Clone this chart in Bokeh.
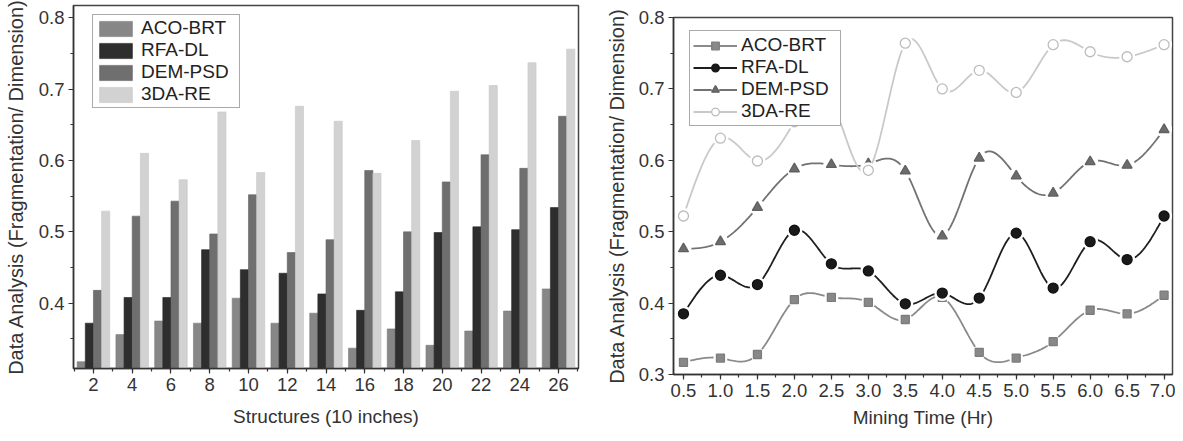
import numpy as np
from bokeh.plotting import figure
from bokeh.layouts import row
from bokeh.models import (ColumnDataSource, Range1d, SingleIntervalTicker,
                          NumeralTickFormatter, Legend, LegendItem)
from bokeh.transform import dodge
from bokeh.embed import file_html
from bokeh.resources import INLINE

# ---------------- data: left chart (bars) ----------------
structures = [2, 4, 6, 8, 10, 12, 14, 16, 18, 20, 22, 24, 26]
bar_aco_brt = [0.318, 0.356, 0.375, 0.372, 0.407, 0.372, 0.386, 0.337, 0.364, 0.341, 0.361, 0.389, 0.420]
bar_rfa_dl = [0.372, 0.408, 0.408, 0.475, 0.447, 0.442, 0.413, 0.390, 0.416, 0.499, 0.507, 0.503, 0.534]
bar_dem_psd = [0.418, 0.522, 0.543, 0.497, 0.552, 0.471, 0.489, 0.586, 0.500, 0.570, 0.608, 0.589, 0.662]
bar_3da_re = [0.529, 0.610, 0.573, 0.668, 0.583, 0.676, 0.655, 0.582, 0.628, 0.697, 0.705, 0.737, 0.756]

# ---------------- data: right chart (lines) ----------------
mining_time = [0.5, 1.0, 1.5, 2.0, 2.5, 3.0, 3.5, 4.0, 4.5, 5.0, 5.5, 6.0, 6.5, 7.0]
line_aco_brt = [0.317, 0.323, 0.328, 0.405, 0.408, 0.401, 0.377, 0.408, 0.331, 0.323, 0.346, 0.390, 0.385, 0.411]
line_rfa_dl = [0.385, 0.439, 0.426, 0.502, 0.455, 0.445, 0.399, 0.414, 0.407, 0.498, 0.421, 0.486, 0.461, 0.522]
line_dem_psd = [0.476, 0.486, 0.534, 0.588, 0.594, 0.595, 0.585, 0.494, 0.603, 0.578, 0.554, 0.598, 0.593, 0.643]
line_3da_re = [0.522, 0.631, 0.599, 0.654, 0.683, 0.586, 0.764, 0.700, 0.726, 0.695, 0.762, 0.752, 0.745, 0.762]

series_names = ["ACO-BRT", "RFA-DL", "DEM-PSD", "3DA-RE"]

FONT = "Liberation Sans"
TXT = "#333333"


def natural_spline(xs, ys, n=24):
    """Smooth curve through the data points (natural cubic spline), for drawing."""
    x = np.asarray(xs, float)
    y = np.asarray(ys, float)
    k = len(x)
    h = np.diff(x)
    A = np.zeros((k, k))
    b = np.zeros(k)
    A[0, 0] = 1.0
    A[-1, -1] = 1.0
    for i in range(1, k - 1):
        A[i, i - 1] = h[i - 1]
        A[i, i] = 2 * (h[i - 1] + h[i])
        A[i, i + 1] = h[i]
        b[i] = 6 * ((y[i + 1] - y[i]) / h[i] - (y[i] - y[i - 1]) / h[i - 1])
    M = np.linalg.solve(A, b)
    out_x, out_y = [], []
    for i in range(k - 1):
        t = np.linspace(x[i], x[i + 1], n, endpoint=(i == k - 2))
        a = x[i + 1] - t
        c = t - x[i]
        s = (M[i] * a ** 3 / (6 * h[i]) + M[i + 1] * c ** 3 / (6 * h[i])
             + (y[i] / h[i] - M[i] * h[i] / 6) * a
             + (y[i + 1] / h[i] - M[i + 1] * h[i] / 6) * c)
        out_x.extend(t.tolist())
        out_y.extend(s.tolist())
    return out_x, out_y


def style(p, xlabel, ylabel, x_title_standoff, y_title_standoff):
    p.xgrid.visible = False
    p.ygrid.visible = False
    p.outline_line_color = "#444444"
    p.outline_line_width = 1.5
    p.background_fill_color = "white"
    p.border_fill_color = "white"
    for ax in (p.xaxis[0], p.yaxis[0]):
        ax.axis_line_color = "#333333"
        ax.axis_line_width = 1.5
        ax.major_tick_line_color = "#333333"
        ax.major_tick_line_width = 1.2
        ax.minor_tick_line_color = "#333333"
        ax.minor_tick_line_width = 1.2
        ax.major_tick_out = 5
        ax.major_tick_in = 0
        ax.minor_tick_out = 3
        ax.minor_tick_in = 0
        ax.major_label_text_font = FONT
        ax.major_label_text_font_size = "18.5px"
        ax.major_label_text_color = TXT
        ax.major_label_standoff = 4
        ax.axis_label_text_font = FONT
        ax.axis_label_text_font_style = "normal"
        ax.axis_label_text_color = TXT
    p.xaxis[0].axis_label = xlabel
    p.xaxis[0].axis_label_text_font_size = "19px"
    p.xaxis[0].axis_label_standoff = x_title_standoff
    p.yaxis[0].axis_label = ylabel
    p.yaxis[0].axis_label_text_font_size = "20px"
    p.yaxis[0].axis_label_standoff = y_title_standoff


# ================= left chart =================
p1 = figure(width=600, height=441, output_backend="svg", toolbar_location=None,
            title=None, x_range=Range1d(0.97, 27.03), y_range=Range1d(0.3085, 0.8172),
            min_border_left=73, min_border_right=22, min_border_top=12, min_border_bottom=66)
p1.margin = (-7, 0, 0, 0)
style(p1, "Structures (10 inches)", "Data Analysis (Fragmentation/ Dimension)", 12, 9)
p1.xaxis[0].ticker = SingleIntervalTicker(interval=2, num_minor_ticks=2)
p1.yaxis[0].ticker = SingleIntervalTicker(interval=0.1, num_minor_ticks=2)
p1.yaxis[0].formatter = NumeralTickFormatter(format="0.0")

src1 = ColumnDataSource(dict(x=structures, aco=bar_aco_brt, rfa=bar_rfa_dl,
                             dem=bar_dem_psd, tda=bar_3da_re))
bar_cols = ["aco", "rfa", "dem", "tda"]
bar_fill = ["#878787", "#2e2e2e", "#6f6f6f", "#d2d2d2"]
bar_line = ["#7a7a7a", "#222222", "#626262", "#c6c6c6"]
offsets = [-0.63, -0.21, 0.21, 0.63]
bar_items = []
for col, fc, lc, off, name in zip(bar_cols, bar_fill, bar_line, offsets, series_names):
    r = p1.vbar(x=dodge("x", off, range=p1.x_range), top=col, bottom=0.0, width=0.42,
                source=src1, fill_color=fc, line_color=lc, line_width=0.6)
    bar_items.append(LegendItem(label=name, renderers=[r]))

leg1 = Legend(items=bar_items, location=(19, 260), glyph_width=41, glyph_height=19,
              label_height=19, label_width=96, label_standoff=5, spacing=0, padding=2,
              label_text_font=FONT, label_text_font_size="19px", label_text_color="#222222",
              border_line_color="#555555", border_line_width=1,
              background_fill_color="white", background_fill_alpha=1.0)
p1.add_layout(leg1)

# ================= right chart =================
p2 = figure(width=575, height=435, output_backend="svg", toolbar_location=None,
            title=None, x_range=Range1d(0.365, 7.114), y_range=Range1d(0.3, 0.8),
            min_border_left=73, min_border_right=3, min_border_top=12, min_border_bottom=66)
p2.margin = (5, 0, 0, 0)
style(p2, "Mining Time (Hr)", "Data Analysis (Fragmentation/ Dimension)", 7, 8)
p2.xaxis[0].ticker = SingleIntervalTicker(interval=0.5, num_minor_ticks=2)
p2.xaxis[0].formatter = NumeralTickFormatter(format="0.0")
p2.yaxis[0].ticker = SingleIntervalTicker(interval=0.1, num_minor_ticks=2)
p2.yaxis[0].formatter = NumeralTickFormatter(format="0.0")

line_series = [line_aco_brt, line_rfa_dl, line_dem_psd, line_3da_re]
line_colors = ["#8a8a8a", "#1e1e1e", "#727272", "#c9c9c9"]
markers = ["square", "circle", "triangle", "circle"]
marker_sizes = [8, 10, 10, 10]
marker_fill = ["#888888", "#1a1a1a", "#6c6c6c", "white"]
marker_line = ["#7c7c7c", "#111111", "#606060", "#bdbdbd"]

line_items = []
for vals, lc, mk, ms, mf, ml, name in zip(line_series, line_colors, markers, marker_sizes,
                                          marker_fill, marker_line, series_names):
    sx, sy = natural_spline(mining_time, vals)
    rl = p2.line(sx, sy, line_color=lc, line_width=1.8)
    pts = ColumnDataSource(dict(x=mining_time, y=vals))
    rg = p2.scatter("x", "y", source=pts, marker="circle", size=ms + 6,
                    fill_color="white", line_color=None)
    rm = p2.scatter("x", "y", source=pts, marker=mk, size=ms,
                    fill_color=mf, line_color=ml, line_width=1.3)
    line_items.append(LegendItem(label=name, renderers=[rl, rg, rm]))

leg2 = Legend(items=line_items, location=(16, 248), glyph_width=44, glyph_height=19,
              label_height=19, label_width=96, label_standoff=4, spacing=0, padding=3,
              label_text_font=FONT, label_text_font_size="19px", label_text_color="#222222",
              border_line_color="#555555", border_line_width=1,
              background_fill_color="white", background_fill_alpha=1.0)
p2.add_layout(leg2)

layout = row(p1, p2, spacing=0)
open("out.html", "w").write(file_html(layout, INLINE))
